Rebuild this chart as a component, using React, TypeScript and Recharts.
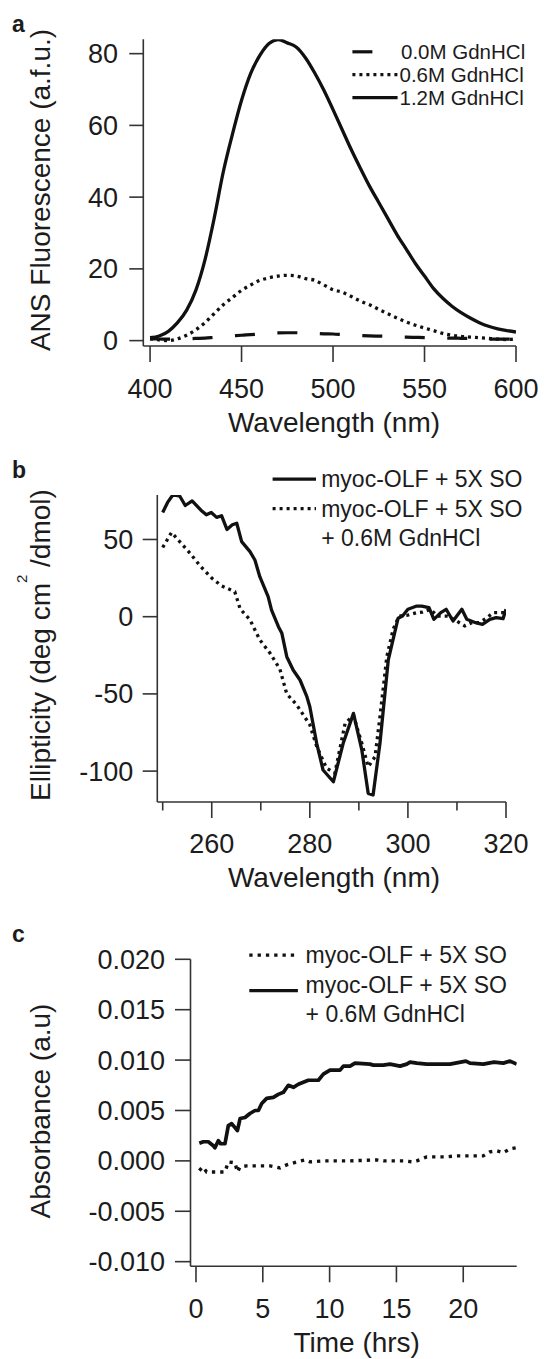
import { LineChart, Line, XAxis, YAxis, Legend } from 'recharts';

const FONT = '"Liberation Sans", Arial, Helvetica, sans-serif';
const INK = '#1c1c1c';
const AXIS_INK = '#333333';
const LINE_INK = '#111111';

// ---- a: ANS fluorescence vs wavelength ----
const wavelengthA = [
  400, 405, 410, 415, 420, 425, 430, 435, 440, 445, 450, 455, 460, 465, 470, 475, 480, 485, 490, 495, 500,
  505, 510, 515, 520, 525, 530, 535, 540, 545, 550, 555, 560, 565, 570, 575, 580, 585, 590, 595, 600,
];
const gdn00 = [
  0.5, 0.45, 0.4, 0.45, 0.5, 0.6, 0.7, 0.9, 1.1, 1.3, 1.5, 1.65, 1.85, 2.0, 2.15, 2.2, 2.2, 2.1, 2.0, 1.9, 1.85,
  1.7, 1.55, 1.4, 1.3, 1.25, 1.2, 1.05, 0.95, 0.9, 0.85, 0.75, 0.7, 0.7, 0.65, 0.6, 0.5, 0.45, 0.4, 0.4, 0.4,
];
const gdn06 = [
  0.5, 0.2, 0, 0.5, 1.5, 3, 5, 7.5, 10, 12, 14, 15.5, 16.8, 17.5, 18, 18.2, 18, 17.3, 16.8, 15.5, 14.2,
  13.5, 12.3, 11, 10, 8.7, 7.5, 6.3, 5.2, 4.3, 3.5, 2.8, 2, 1.5, 1.2, 1, 0.8, 0.6, 0.4, 0.3, 0.5,
];
const gdn12 = [
  0.8, 1.3, 2.6, 5, 8.5, 14, 22.5, 34, 47, 57.5, 67, 74.5, 79.5, 82.8, 83.9, 83, 81.8, 78.8, 74.6, 69.8, 64.4,
  58.8, 53.2, 48, 43, 38.5, 34, 29.5, 25.5, 21.5, 18, 14.5, 11.8, 9.6, 7.8, 6.3, 5, 4, 3.3, 2.8, 2.4,
];
const ticksAX = [400, 450, 500, 550, 600];
const ticksAY = [0, 20, 40, 60, 80];

// ---- b: CD ellipticity ----
const soNmB = [
  250, 251, 252.1, 253.5, 254.6, 256, 257.8, 258.9, 259.9, 261, 262, 263.1, 264.2, 265.1, 266.1, 267.8, 268.8,
  269.8, 271.5, 272.2, 273.6, 274.3, 275.3, 276.6, 278, 279.4, 280, 281.4, 282.7, 284.8, 286.8, 288.9, 290.6,
  291.9, 292.9, 294.3, 296, 298, 298.9, 300, 301.8, 302.8, 304.3, 305.3, 306.7, 307.8, 309.2, 311, 312, 313.8,
  315.2, 316.7, 318, 319.4, 320,
];
const soValB = [
  67.5, 74, 79, 78, 72, 75, 69, 66, 67.5, 64.3, 65.4, 56.5, 59.5, 60.5, 48.6, 42.1, 36.7, 25.9, 13, 4.3, -6.5,
  -10.8, -25.9, -34.5, -41, -51.8, -58.3, -82, -99.3, -106.9, -82, -62.6, -86.3, -114.4, -115.5, -82, -28, -1,
  0.4, 4.8, 6.9, 6.9, 5.8, -1.7, 2.6, 4.8, -2.8, 4.8, -1.7, -3.9, -5, -1.7, -0.6, -1.3, 4.8,
];
const gdnNmB = [
  250, 251.8, 253.5, 255.6, 257.6, 260, 262, 264.7, 265.8, 267.8, 269.8, 271.9, 273.9, 275.3, 277.3, 280, 281.4,
  283.4, 285.1, 287.2, 288.9, 290.6, 291.9, 293.3, 294.3, 295.7, 297, 298.2, 300, 301.8, 303, 304.6, 306, 308.1,
  309.5, 311.6, 313, 314.5, 316, 317.4, 319.9,
];
const gdnValB = [
  44.8, 54.5, 48.5, 41, 33, 25, 20, 16.2, 5, -2, -15, -23.7, -34, -50, -57, -70, -84, -98, -101.4, -69, -64,
  -82, -97.2, -90.7, -64.8, -25.9, -8, 0.4, 1, 2.6, 3, 4.8, 0.4, 0.4, -2, -6, -4, -3.9, -1, 2.6, 2.6,
];
const ticksBX = [250, 260, 270, 280, 290, 300, 310, 320];
const labelledBX = [260, 280, 300, 320];
const ticksBY = [-100, -50, 0, 50];

// ---- c: absorbance vs time ----
const timeSoC = [
  0.25, 0.5, 0.8, 1.55, 2.17, 2.42, 2.92, 3.1, 3.3, 3.79, 4.29, 4.79, 5.54, 6.29, 6.79, 7.53, 8.16, 8.53, 9.53,
  11.53, 13.52, 14.02, 15.52, 16.27, 16.52, 17.27, 18.01, 18.76, 19.51, 20.5, 21.5, 22, 22.5, 23, 23.5, 24,
];
const absSoC = [
  -0.00096, -0.0006, -0.0011, -0.0011, -0.0011, -0.0001, -0.0002, -0.0011, -0.0006, -0.0005, -0.0005, -0.0005,
  -0.0005, -0.0007, -0.0004, -0.0001, 0.0001, -0.0001, 0, 0, 0.0001, 0, 0, -0.0001, 0, 0.0004, 0.0004, 0.0004,
  0.0005, 0.0005, 0.0005, 0.0009, 0.001, 0.0008, 0.0012, 0.0013,
];
const timeGdnC = [
  0.25, 0.55, 0.92, 1.3, 1.42, 1.67, 1.85, 2.17, 2.42, 2.67, 2.92, 3.1, 3.3, 3.67, 4.04, 4.42, 4.67, 4.92, 5.29,
  5.79, 6.16, 6.54, 6.91, 7.29, 7.66, 8.03, 8.41, 9.16, 9.53, 10.03, 10.78, 11.03, 11.53, 11.9, 13.02, 13.27,
  14.02, 14.52, 15.27, 15.77, 16.02, 16.52, 17.27, 19.01, 20.2, 20.5, 21.5, 22.3, 23, 23.5, 24,
];
const absGdnC = [
  0.00175, 0.0019, 0.0019, 0.0015, 0.0013, 0.002, 0.0017, 0.0017, 0.0035, 0.0037, 0.0033, 0.003, 0.0042, 0.0043,
  0.0047, 0.005, 0.005, 0.0057, 0.0062, 0.0063, 0.0066, 0.0068, 0.0075, 0.0073, 0.0076, 0.0078, 0.008, 0.008,
  0.0086, 0.009, 0.009, 0.0094, 0.0094, 0.0097, 0.0096, 0.0095, 0.0095, 0.0096, 0.0094, 0.0096, 0.0098, 0.0097,
  0.0096, 0.0096, 0.0099, 0.0097, 0.0096, 0.0098, 0.0097, 0.0099, 0.0096,
];
const ticksCX = [0, 5, 10, 15, 20];
const ticksCY = [-0.01, -0.005, 0, 0.005, 0.01, 0.015, 0.02];

const rowsA = wavelengthA.map((wl, i) => ({ wl, g00: gdn00[i], g06: gdn06[i], g12: gdn12[i] }));
const pairs = (xs: number[], ys: number[]) => xs.map((x, i) => ({ x, y: ys[i] }));
const soRowsB = pairs(soNmB, soValB);
const gdnRowsB = pairs(gdnNmB, gdnValB);
const soRowsC = pairs(timeSoC, absSoC);
const gdnRowsC = pairs(timeGdnC, absGdnC);

// line styles
const SOLID = { dash: undefined as string | undefined, width: 3.3 };
const DASHED = { dash: '20 22.5', width: 3.2 };
const DOTTED = { dash: '3 4', width: 3.3 };
const DOTTED_C = { dash: '3.3 5', width: 3.4 };

const tickStyle = { fill: INK, fontSize: 27, fontFamily: FONT };
const textProps = { fill: INK, fontFamily: FONT };

const yTitle = (cx: number, cy: number, children: any) => () => (
  <text x={cx} y={cy} transform={`rotate(-90 ${cx} ${cy})`} textAnchor="middle" fontSize={28} {...textProps}>
    {children}
  </text>
);
const xTitle = (cx: number, baseline: number, text: string) => () => (
  <text x={cx} y={baseline} textAnchor="middle" fontSize={28} {...textProps}>
    {text}
  </text>
);

type Sample = { style: { dash?: string; width: number }; x1: number; x2: number; y: number };
type Caption = { text: string; x: number; y: number };
const overlay = (height: number, letter: string, letterY: number, samples: Sample[], captions: Caption[], fs: number) =>
  () => (
    <svg width={544} height={height} style={{ display: 'block', overflow: 'visible' }}>
      <text x={12} y={letterY} fontSize={23} fontWeight="bold" {...textProps}>{letter}</text>
      {samples.map((s, i) => (
        <line key={i} x1={s.x1} x2={s.x2} y1={s.y} y2={s.y} stroke={LINE_INK}
          strokeWidth={s.style.width} strokeDasharray={s.style.dash} />
      ))}
      {captions.map((c, i) => (
        <text key={i} x={c.x} y={c.y + fs * 0.358} fontSize={fs} {...textProps}>{c.text}</text>
      ))}
    </svg>
  );

function PanelA() {
  return (
    <LineChart width={544} height={460} data={rowsA} margin={{ top: 39.3, right: 28, bottom: 54, left: 43.3 }}>
      <XAxis dataKey="wl" type="number" domain={[396.3, 600]} allowDataOverflow ticks={ticksAX} interval={0}
        height={60} tickSize={16} tickMargin={16.8} stroke={AXIS_INK} strokeWidth={1.6} tick={tickStyle}
        label={{ content: xTitle(334, 431.7, 'Wavelength (nm)') }} />
      <YAxis type="number" domain={[-1.5, 84]} allowDataOverflow ticks={ticksAY} interval={0} width={100}
        tickSize={14} tickMargin={11.3} stroke={AXIS_INK} strokeWidth={1.6} tick={tickStyle}
        label={{ content: yTitle(50, 190, 'ANS Fluorescence (a.f.u.)') }} />
      <Line dataKey="g00" type="monotone" stroke={LINE_INK} strokeWidth={DASHED.width}
        strokeDasharray={DASHED.dash} dot={false} activeDot={false} isAnimationActive={false} />
      <Line dataKey="g06" type="monotone" stroke={LINE_INK} strokeWidth={DOTTED.width}
        strokeDasharray={DOTTED.dash} dot={false} activeDot={false} isAnimationActive={false} />
      <Line dataKey="g12" type="monotone" stroke={LINE_INK} strokeWidth={SOLID.width} strokeLinejoin="round"
        dot={false} activeDot={false} isAnimationActive={false} />
      <Legend layout="vertical" align="center" verticalAlign="middle"
        wrapperStyle={{ left: 0, top: 0, width: 544, height: 460 }}
        content={overlay(460, 'a', 31.7, [
          { style: DASHED, x1: 352.4, x2: 373.3, y: 51.8 },
          { style: DOTTED, x1: 352.4, x2: 397.6, y: 74.7 },
          { style: SOLID, x1: 352.4, x2: 397.6, y: 97.6 },
        ], [
          { text: '0.0M GdnHCl', x: 401, y: 51.8 },
          { text: '0.6M GdnHCl', x: 399.5, y: 74.7 },
          { text: '1.2M GdnHCl', x: 399.5, y: 97.6 },
        ], 20.5)} />
    </LineChart>
  );
}

const TICK_B = 16;
const MARGIN_B = 16.8;
const renderTickB = (props: any) => {
  const { x, y, payload } = props;
  const axisY = y - TICK_B - MARGIN_B;
  const major = labelledBX.includes(payload.value);
  return (
    <g>
      <line x1={x} x2={x} y1={axisY} y2={axisY + (major ? 16 : 8.5)} stroke={AXIS_INK} strokeWidth={1.6} />
      {major && (
        <text x={x} y={axisY + 51.3} textAnchor="middle" fontSize={27} {...textProps}>{payload.value}</text>
      )}
    </g>
  );
};

function PanelB() {
  return (
    <LineChart width={544} height={450} margin={{ top: 35, right: 38, bottom: 48, left: 57.3 }}>
      <XAxis dataKey="x" type="number" domain={[248.9, 320]} allowDataOverflow ticks={ticksBX} interval={0}
        height={60} tickSize={TICK_B} tickMargin={MARGIN_B} tickLine={false} stroke={AXIS_INK} strokeWidth={1.6}
        tick={renderTickB} label={{ content: xTitle(334, 427.3, 'Wavelength (nm)') }} />
      <YAxis type="number" domain={[-120, 78.8]} allowDataOverflow ticks={ticksBY} interval={0} width={100}
        tickSize={14.6} tickMargin={9.4} stroke={AXIS_INK} strokeWidth={1.6} tick={tickStyle}
        label={{
          content: yTitle(50, 185, (
            <>
              Ellipticity (deg cm<tspan dy={-23} fontSize={15}>2</tspan>
              <tspan dy={23}> /dmol)</tspan>
            </>
          )),
        }} />
      <Line data={gdnRowsB} dataKey="y" type="linear" stroke={LINE_INK} strokeWidth={DOTTED.width}
        strokeDasharray={DOTTED.dash} dot={false} activeDot={false} isAnimationActive={false} />
      <Line data={soRowsB} dataKey="y" type="linear" stroke={LINE_INK} strokeWidth={SOLID.width}
        strokeLinejoin="round" dot={false} activeDot={false} isAnimationActive={false} />
      <Legend layout="vertical" align="center" verticalAlign="middle"
        wrapperStyle={{ left: 0, top: 0, width: 544, height: 450 }}
        content={overlay(450, 'b', 18.3, [
          { style: SOLID, x1: 272.6, x2: 316, y: 19.1 },
          { style: DOTTED, x1: 272.6, x2: 316, y: 48.6 },
        ], [
          { text: 'myoc-OLF + 5X SO', x: 321.2, y: 19.1 },
          { text: 'myoc-OLF + 5X SO', x: 321.2, y: 48.6 },
          { text: '+ 0.6M GdnHCl', x: 321.2, y: 78.1 },
        ], 23)} />
    </LineChart>
  );
}

function PanelC() {
  return (
    <LineChart width={544} height={449} margin={{ top: 49.3, right: 27.3, bottom: 32.7, left: 90.5 }}>
      <XAxis dataKey="x" type="number" domain={[-0.41, 24]} allowDataOverflow ticks={ticksCX} interval={0}
        height={60} tickSize={16} tickMargin={16.8} stroke={AXIS_INK} strokeWidth={1.6} tick={tickStyle}
        label={{ content: xTitle(356.7, 441.7, 'Time (hrs)') }} />
      <YAxis type="number" domain={[-0.01046, 0.02]} allowDataOverflow ticks={ticksCY} interval={0} width={100}
        tickSize={15.5} tickMargin={10} stroke={AXIS_INK} strokeWidth={1.6} tick={tickStyle}
        tickFormatter={(v: number) => v.toFixed(3)}
        label={{ content: yTitle(50, 201, 'Absorbance (a.u)') }} />
      <Line data={soRowsC} dataKey="y" type="linear" stroke={LINE_INK} strokeWidth={DOTTED_C.width}
        strokeDasharray={DOTTED_C.dash} dot={false} activeDot={false} isAnimationActive={false} />
      <Line data={gdnRowsC} dataKey="y" type="linear" stroke={LINE_INK} strokeWidth={SOLID.width + 0.4}
        strokeLinejoin="round" dot={false} activeDot={false} isAnimationActive={false} />
      <Legend layout="vertical" align="center" verticalAlign="middle"
        wrapperStyle={{ left: 0, top: 0, width: 544, height: 449 }}
        content={overlay(449, 'c', 31.7, [
          { style: DOTTED_C, x1: 249.3, x2: 297.9, y: 45.1 },
          { style: SOLID, x1: 249.3, x2: 297.9, y: 80.6 },
        ], [
          { text: 'myoc-OLF + 5X SO', x: 305.6, y: 45.1 },
          { text: 'myoc-OLF + 5X SO', x: 305.6, y: 74.7 },
          { text: '+ 0.6M GdnHCl', x: 305.6, y: 104.2 },
        ], 23)} />
    </LineChart>
  );
}

export default function App() {
  return (
    <div style={{ position: 'absolute', left: 0, top: 0, width: 544, height: 1359, background: '#fff', fontFamily: FONT }}>
      <div style={{ position: 'absolute', left: 0, top: 0 }}><PanelA /></div>
      <div style={{ position: 'absolute', left: 0, top: 460 }}><PanelB /></div>
      <div style={{ position: 'absolute', left: 0, top: 910 }}><PanelC /></div>
    </div>
  );
}
